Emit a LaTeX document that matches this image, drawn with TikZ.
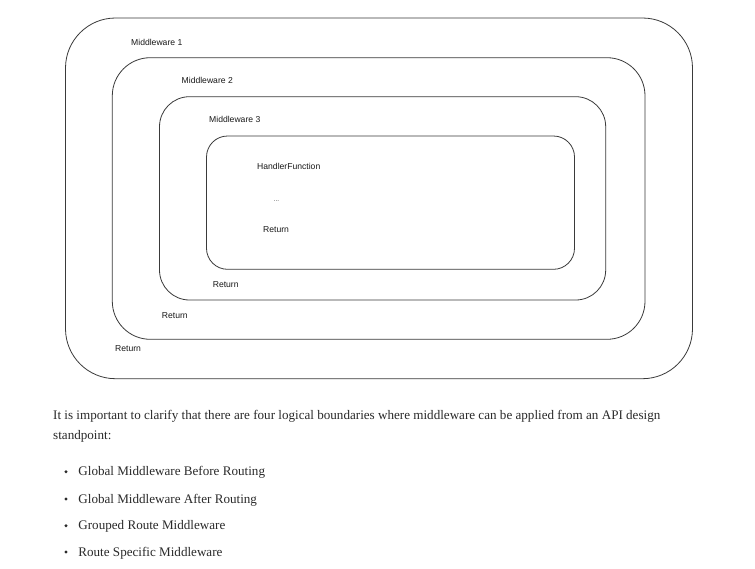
\documentclass[tikz,border=0pt]{standalone}
\usepackage{fontspec}
\setmainfont{Liberation Serif}
\newfontfamily\labelfont{Liberation Sans}
\definecolor{boxline}{HTML}{3A3A3A}
\definecolor{bodytext}{HTML}{2A2A2A}
\tikzset{
  layer/.style={draw=boxline, line width=0.8pt, inner sep=0pt, outer sep=0pt},
  lbl/.style={anchor=base west, inner sep=0pt, font=\labelfont\fontsize{8.6}{10}\selectfont, text=black!90},
  body/.style={anchor=base west, inner sep=0pt, font=\fontsize{13.1}{15}\selectfont, text=bodytext},
  dot/.style={circle, fill=bodytext, inner sep=0pt, minimum size=3.4pt}
}
\begin{document}
\begin{tikzpicture}[x=1pt,y=-1pt]
\useasboundingbox[fill=white] (0,0) rectangle (755,568);
% nested layers
\node[layer, rounded corners=50pt, minimum width=627pt, minimum height=360.7pt] (b1) at (379,198.35) {};
\node[layer, rounded corners=38pt, minimum width=532.7pt, minimum height=281.6pt] (b2) at (378.65,198.5) {};
\node[layer, rounded corners=30pt, minimum width=446.2pt, minimum height=203.3pt] (b3) at (382.6,198.35) {};
\node[layer, rounded corners=21pt, minimum width=368pt, minimum height=133.3pt] (b4) at (390.5,202.65) {};
% labels
\node[lbl] (m1) at (131,45.2) {Middleware 1};
\node[lbl] (m2) at (181.5,83.2) {Middleware 2};
\node[lbl] (m3) at (209,122.2) {Middleware 3};
\node[lbl] (hf) at (257,169.2) {HandlerFunction};
\node[anchor=base west, inner sep=0pt, font=\labelfont\fontsize{6.5}{7}\selectfont, text=black!75] (dots) at (273.5,201.5) {...};
\node[lbl] (r4) at (263,232.2) {Return};
\node[lbl] (r3) at (212.6,287.4) {Return};
\node[lbl] (r2) at (161.7,318.8) {Return};
\node[lbl] (r1) at (115,351.1) {Return};
% text below
\node[body] (p1) at (53,419.5) {It is important to clarify that there are four logical boundaries where middleware can be applied from an API design};
\node[body] (p2) at (53,439) {standpoint:};
\node[dot] (d1) at (66,471.7) {};
\node[body] (t1) at (78.2,475.7) {Global Middleware Before Routing};
\node[dot] (d2) at (66,499) {};
\node[body] (t2) at (78.2,503) {Global Middleware After Routing};
\node[dot] (d3) at (66,525.7) {};
\node[body] (t3) at (78.2,529.7) {Grouped Route Middleware};
\node[dot] (d4) at (66,552) {};
\node[body] (t4) at (78.2,556) {Route Specific Middleware};
\end{tikzpicture}
\end{document}
